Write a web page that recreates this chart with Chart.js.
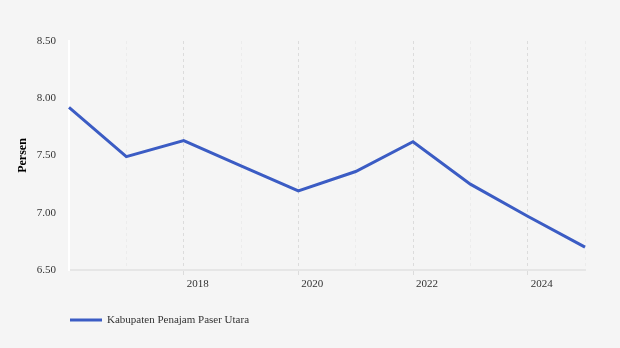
<!DOCTYPE html>
<html>
<head>
<meta charset="utf-8">
<script src="https://cdn.jsdelivr.net/npm/chart.js@4/dist/chart.umd.min.js"></script>
<style>
  html, body { margin: 0; padding: 0; background: #f5f5f5; }
  #wrap { width: 620px; height: 348px; }
</style>
</head>
<body>
<div id="wrap"><canvas id="chart" width="620" height="348"></canvas></div>
<script>
const years = ["2016", "2017", "2018", "2019", "2020", "2021", "2022", "2023", "2024", "2025"];
const values = [7.92, 7.49, 7.63, 7.41, 7.19, 7.36, 7.62, 7.25, 6.97, 6.70];
const shownYears = ["2018", "2020", "2022", "2024"];
const seriesName = "Kabupaten Penajam Paser Utara";
const lineColor = "#3b5cc4";
const serif = "'Liberation Serif', 'DejaVu Serif', serif";

// legend drawn by hand so it can sit under the plot like the original
const bottomLegend = {
  id: "bottomLegend",
  afterDraw(chart) {
    const ctx = chart.ctx;
    const ds = chart.data.datasets[0];
    ctx.save();
    ctx.strokeStyle = ds.borderColor;
    ctx.lineWidth = 3;
    ctx.beginPath();
    ctx.moveTo(70, 320);
    ctx.lineTo(102, 320);
    ctx.stroke();
    ctx.fillStyle = "#333333";
    ctx.font = "11px " + serif;
    ctx.textBaseline = "middle";
    ctx.textAlign = "left";
    ctx.fillText(ds.label, 107, 320.5);
    ctx.restore();
  }
};

new Chart(document.getElementById("chart"), {
  type: "line",
  data: {
    labels: years,
    datasets: [{
      label: seriesName,
      data: values,
      borderColor: lineColor,
      backgroundColor: lineColor,
      borderWidth: 3,
      pointRadius: 0,
      tension: 0,
      fill: false
    }]
  },
  options: {
    responsive: false,
    animation: false,
    layout: { padding: { left: 10, right: 35, top: 41, bottom: 0 } },
    plugins: {
      legend: { display: false },
      tooltip: { enabled: false }
    },
    scales: {
      x: {
        type: "category",
        offset: false,
        afterFit(scale) { scale.height = 78; },
        grid: {
          display: true,
          drawTicks: true,
          tickLength: 5,
          lineWidth: 1,
          color: ctx => (shownYears.includes(years[ctx.index]) ? "#dcdcdc" : "#ececec"),
          tickColor: ctx => (shownYears.includes(years[ctx.index]) ? "#dcdcdc" : "rgba(0,0,0,0)")
        },
        border: { display: true, color: "#e6e6e6", width: 2, dash: [3, 3] },
        ticks: {
          autoSkip: false,
          maxRotation: 0,
          padding: 3,
          labelOffset: 14,
          color: "#333333",
          font: { family: serif, size: 11 },
          callback: function (val, i) {
            const y = years[i];
            return shownYears.includes(y) ? y : "";
          }
        }
      },
      y: {
        min: 6.5,
        max: 8.5,
        afterFit(scale) { scale.width = 59; },
        grid: { display: true, color: "rgba(0,0,0,0)", drawTicks: false },
        border: { display: true, color: "#ffffff", width: 2 },
        ticks: {
          stepSize: 0.5,
          padding: 13,
          color: "#333333",
          font: { family: serif, size: 11 },
          callback: v => Number(v).toFixed(2)
        },
        title: {
          display: true,
          text: "Persen",
          color: "#000000",
          font: { family: serif, size: 12, weight: "bold" },
          padding: { top: 6, bottom: 0 }
        }
      }
    }
  },
  plugins: [bottomLegend]
});
</script>
</body>
</html>
